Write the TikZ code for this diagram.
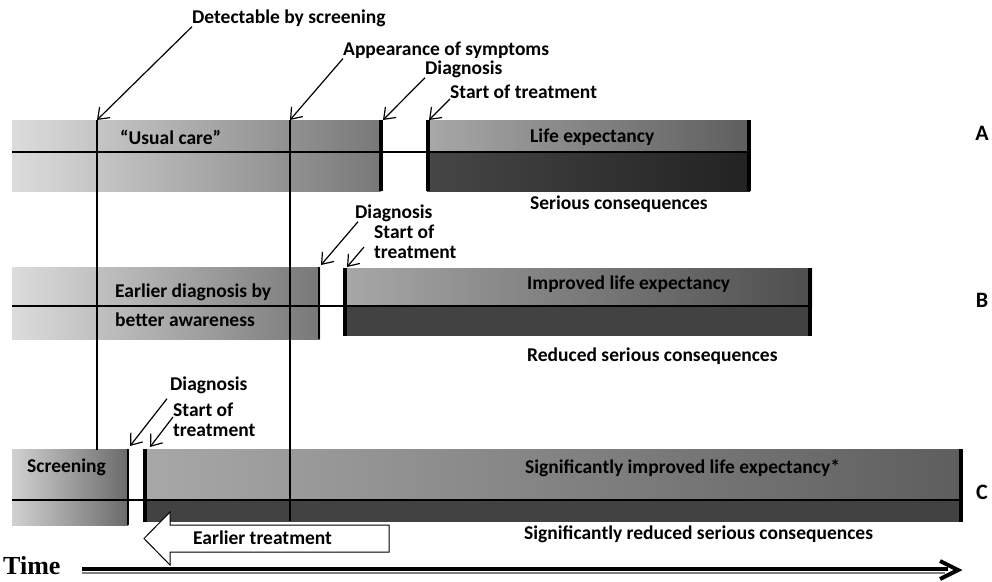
\documentclass[tikz,border=0pt]{standalone}
\usepackage{fontspec}
\setmainfont{Carlito}
\newfontfamily\timesf{Liberation Serif}
\usetikzlibrary{arrows.meta}
\definecolor{ltA}{HTML}{DCDCDC}
\definecolor{mdA}{HTML}{787878}
\definecolor{upL}{HTML}{A8A8A8}
\definecolor{upR}{HTML}{5E5E5E}
\definecolor{loL}{HTML}{464646}
\definecolor{loR}{HTML}{222222}
\definecolor{loB}{HTML}{424242}
\tikzset{
  lbl/.style={font=\fontsize{19.5}{20}\selectfont\bfseries, inner sep=0pt, anchor=west},
  rowlbl/.style={font=\fontsize{22}{24}\selectfont\bfseries, inner sep=0pt},
  ptr/.style={line width=1.2pt, -{Straight Barb[length=10pt,width=15pt]}},
  thinl/.style={line width=1.2pt},
  thickbar/.style={line width=3.5pt},
}
\begin{document}
\begin{tikzpicture}[x=1pt,y=-1pt]
\useasboundingbox (0,0) rectangle (992,581);
% ---------- Row A ----------
\fill[left color=ltA, right color=mdA] (12,120) rectangle (381,191);
\fill[left color=upL, right color=upR] (427,120) rectangle (750,152);
\fill[left color=loL, right color=loR] (427,152) rectangle (750,191);
\draw[thinl] (12,152) -- (750,152);
\draw[thickbar] (381,120) -- (381,191);
\draw[thickbar] (428,120) -- (428,191);
\draw[thickbar] (749,120) -- (749,191);
% ---------- Row B ----------
\fill[left color=ltA, right color=mdA] (12,267) rectangle (320,339);
\fill[left color=upL, right color=upR!110] (343,268) rectangle (812,307);
\fill[loB] (343,307) rectangle (812,336);
\draw[thinl] (12,306) -- (812,306);
\draw[line width=2.5pt] (319,267) -- (319,339);
\draw[line width=4pt] (345,268) -- (345,336);
\draw[thickbar] (810,268) -- (810,336);
% ---------- Row C ----------
\fill[left color=ltA!95!black, right color=mdA!110] (12,449) rectangle (128,525);
\fill[left color=upL, right color=upR] (145,449) rectangle (960,500);
\fill[loB] (145,500) rectangle (960,522);
\draw[thinl] (12,500) -- (960,500);
\draw[line width=1.5pt] (128,449) -- (128,525);
\draw[line width=4.5pt] (145,449) -- (145,522);
\draw[thickbar] (961,449) -- (961,522);
% ---------- vertical guides ----------
\coordinate (detP) at (97,120);
\coordinate (appP) at (290,120);
\draw[thinl] (detP) -- (97,450);
\draw[thinl] (appP) -- (290,521);
% ---------- labels and pointers, A ----------
\node[lbl] (det) at (192,18) {Detectable by screening};
\node[lbl] (app) at (343,50) {Appearance of symptoms};
\node[lbl] (diagA) at (425,69) {Diagnosis};
\node[lbl] (startA) at (450,92) {Start of treatment};
\coordinate (diagAP) at (383,120);
\coordinate (startAP) at (429,120);
\draw[ptr] (det.south west) -- (detP);
\draw[ptr] (app.south west) -- (appP);
\draw[ptr] (diagA.south west) -- (diagAP);
\draw[ptr] (startA.south west) -- (startAP);
\node[lbl] (usual) at (120,137) {“Usual care”};
\node[lbl] (lifeA) at (530,137) {Life expectancy};
\node[lbl] (serA) at (530,204) {Serious consequences};
\node[rowlbl] (rA) at (982,133) {A};
% ---------- labels and pointers, B ----------
\node[lbl] (diagB) at (355,213) {Diagnosis};
\node[lbl, align=left] (startB) at (374,242) {Start of\\treatment};
\coordinate (diagBP) at (321,265);
\coordinate (startBP) at (347,267);
\draw[ptr] ([xshift=3pt]diagB.south west) -- (diagBP);
\draw[ptr] ([xshift=-10pt,yshift=-5pt]startB.west) -- (startBP);
\node[lbl] (earl1) at (115,292) {Earlier diagnosis by};
\node[lbl] (earl2) at (115,320) {better awareness};
\node[lbl] (lifeB) at (527,284) {Improved life expectancy};
\node[lbl] (serB) at (527,356) {Reduced serious consequences};
\node[rowlbl] (rB) at (982,300) {B};
% ---------- labels and pointers, C ----------
\node[lbl] (diagC) at (170,385) {Diagnosis};
\node[lbl, align=left] (startC) at (173,420) {Start of\\treatment};
\coordinate (diagCP) at (130,446);
\coordinate (startCP) at (150,447);
\draw[ptr] ([xshift=-3pt,yshift=-5pt]diagC.south west) -- (diagCP);
\draw[ptr] ([yshift=3pt]startC.west) -- (startCP);
\node[lbl] (scr) at (27,467) {Screening};
\node[lbl] (lifeC) at (525,468) {Significantly improved life expectancy*};
\node[lbl] (serC) at (524,534) {Significantly reduced serious consequences};
\node[rowlbl] (rC) at (982,492) {C};
% ---------- earlier treatment block arrow ----------
\draw[fill=white, line width=1pt, line join=miter]
  (389,525) -- (170,525) -- (170,512) -- (144,538.5) -- (170,565) -- (170,552) -- (389,552) -- cycle;
\node[lbl] (earlyT) at (193,538) {Earlier treatment};
% ---------- time axis ----------
\node[font=\timesf\fontsize{26}{28}\selectfont\bfseries, inner sep=0pt, anchor=west] (time) at (3,566) {Time};
\coordinate (timeEnd) at (958,570);
\draw[line width=2pt, gray] (82,573) -- (945,573);
\draw[line width=4.5pt] (82,569) -- (948,569);
\draw[line width=4pt, line join=miter, line cap=butt] (940,561) -- (timeEnd) -- (940,579);
\end{tikzpicture}
\end{document}
